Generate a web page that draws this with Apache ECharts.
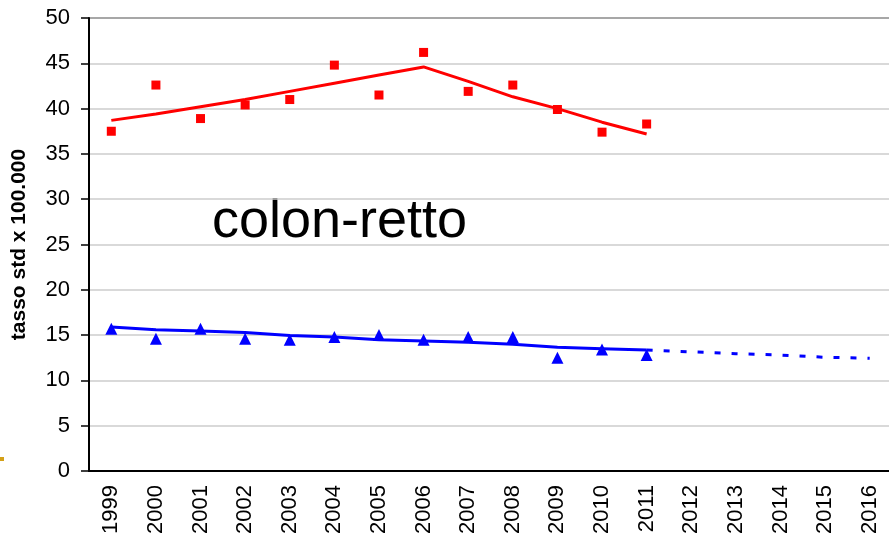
<!DOCTYPE html>
<html>
<head>
<meta charset="utf-8">
<script src="https://cdn.jsdelivr.net/npm/echarts@6/dist/echarts.min.js"></script>
<style>
  html, body { margin: 0; padding: 0; background: #fff; }
  #chart { width: 889px; height: 540px; }
</style>
</head>
<body>
<div id="chart"></div>
<script>
// anni
const years = ["1999", "2000", "2001", "2002", "2003", "2004", "2005", "2006", "2007", "2008",
  "2009", "2010", "2011", "2012", "2013", "2014", "2015", "2016"]

// colon-retto, tassi osservati e trend (rosso)
const redObs = [37.5, 42.6, 38.9, 40.4, 41.0, 44.8, 41.5, 46.2, 41.9, 42.6, 39.9, 37.4, 38.3]
const redFit = [38.7, 39.4, 40.2, 41.0, 41.9, 42.8, 43.7, 44.6, 43.0, 41.3, 40.0, 38.5, 37.2]

// serie blu, osservati, trend e proiezione
const blueObs = [15.7, 14.6, 15.7, 14.6, 14.5, 14.8, 15.0, 14.5, 14.8, 14.8, 12.5, 13.4, 12.8]
const blueFit = [15.9, 15.6, 15.45, 15.3, 14.95, 14.8, 14.5, 14.35, 14.2, 14.0, 13.65, 13.5, 13.35]
const blueProj = [null, null, null, null, null, null, null, null, null, null, null, null,
  13.35, 13.15, 12.95, 12.8, 12.55, 12.45]

const yTicks = [0, 5, 10, 15, 20, 25, 30, 35, 40, 45, 50]

const chart = echarts.init(document.getElementById("chart"))

const gridColors = yTicks.map((v) => (v === 50 ? "#8a8a8a" : "#cccccc"))

chart.setOption({
  animation: false,
  backgroundColor: "#fff",
  textStyle: { fontFamily: "Liberation Sans, Arial, sans-serif" },
  grid: { left: 89, right: -3, top: 18, bottom: 69, containLabel: false, outerBoundsMode: "none" },
  xAxis: {
    type: "category",
    data: years,
    boundaryGap: true,
    axisLine: { lineStyle: { color: "#000", width: 2 } },
    axisTick: { alignWithLabel: false, length: 8, lineStyle: { color: "#000", width: 1.5 } },
    axisLabel: { rotate: 90, interval: 0, margin: 14, fontSize: 22, color: "#000" },
    splitLine: { show: false }
  },
  yAxis: {
    type: "value",
    min: 0,
    max: 50,
    interval: 5,
    name: "tasso std x 100.000",
    nameLocation: "middle",
    nameGap: 59,
    nameTextStyle: { fontSize: 21, fontWeight: "bold", color: "#000" },
    axisLine: { show: true, lineStyle: { color: "#000", width: 2 } },
    axisTick: { show: true, length: 8, lineStyle: { color: "#000", width: 1.5 } },
    axisLabel: { margin: 19, fontSize: 22, color: "#000" },
    splitLine: { show: true, lineStyle: { color: gridColors, width: 1.5 } }
  },
  graphic: [
    {
      type: "text",
      x: 212,
      y: 222,
      style: {
        text: "colon-retto",
        fontSize: 54,
        fontFamily: "Liberation Sans, Arial, sans-serif",
        fill: "#000",
        verticalAlign: "middle"
      }
    },
    {
      type: "rect",
      shape: { x: 0, y: 457, width: 4, height: 4 },
      style: { fill: "#d4a017" }
    }
  ],
  series: [
    {
      name: "trend colon-retto",
      type: "line",
      data: redFit,
      symbol: "none",
      lineStyle: { color: "#ff0000", width: 3 },
      z: 2
    },
    {
      name: "colon-retto",
      type: "scatter",
      data: redObs,
      symbol: "rect",
      symbolSize: 9,
      itemStyle: { color: "#ff0000", opacity: 1 },
      z: 3
    },
    {
      name: "trend blu",
      type: "line",
      data: blueFit,
      symbol: "none",
      lineStyle: { color: "#0000ff", width: 3 },
      z: 2
    },
    {
      name: "proiezione",
      type: "line",
      data: blueProj,
      symbol: "none",
      lineStyle: { color: "#0000ff", width: 3, type: [6, 11] },
      z: 2
    },
    {
      name: "osservati blu",
      type: "scatter",
      data: blueObs,
      symbol: "triangle",
      symbolSize: 12,
      itemStyle: { color: "#0000ff", opacity: 1 },
      z: 3
    }
  ]
})
</script>
</body>
</html>
